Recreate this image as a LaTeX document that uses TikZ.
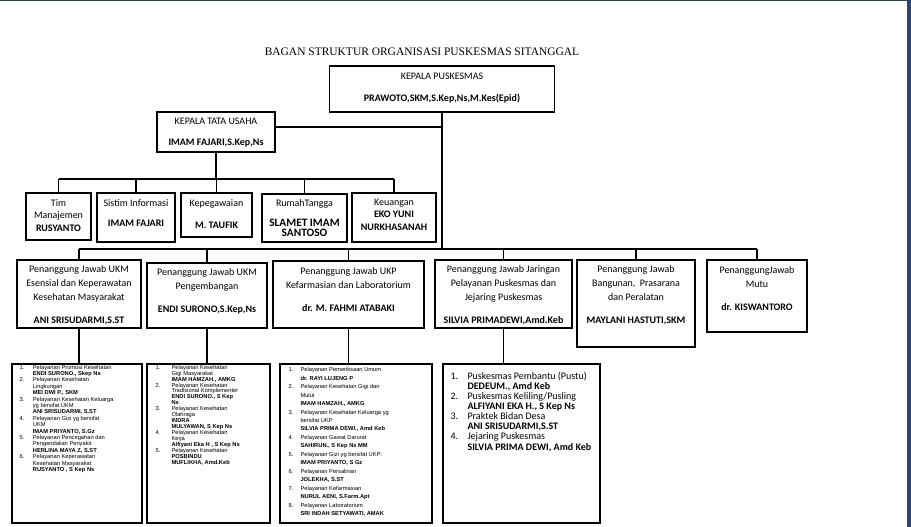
\documentclass[tikz,border=0pt]{standalone}
\usepackage{fontspec}
\setmainfont{Carlito}
\newfontfamily\judulfont{Liberation Serif}
\newfontfamily\arialfont{Liberation Sans}
\usetikzlibrary{positioning}
\definecolor{cframe}{HTML}{2B4470}
\definecolor{ctop}{HTML}{34404A}
\tikzset{
  every picture/.style={x=0.75pt, y=-0.75pt, line width=0.8pt},
  box/.style 2 args={draw, rectangle, inner sep=0pt, minimum width=#1*0.75pt, minimum height=#2*0.75pt},
  txt/.style={align=center, inner sep=0pt, font=\fontsize{7.5}{10.5}\selectfont},
  kecil/.style={align=center, inner sep=0pt, font=\fontsize{7.5}{9.4}\selectfont},
  daftar/.style={anchor=west, inner sep=0pt, font=\arialfont\fontsize{4.3}{#1}\selectfont},
  judul/.style={inner sep=0pt, font=\judulfont\fontsize{8.6}{10}\selectfont},
}
\newcommand{\besar}[1]{{\fontsize{8.5}{9.4}\selectfont\bfseries #1}}

\begin{document}
\begin{tikzpicture}
  \useasboundingbox (0,0) rectangle (911,527);
  % window edges
  \fill[ctop] (0,0) rectangle (911,1.2);
  \fill[cframe] (907,0) rectangle (911,527);
  \node[judul] (judul) at (422,52) {BAGAN STRUKTUR ORGANISASI PUSKESMAS SITANGGAL};
  % kepala
  \node[box={225}{46}] (kapus) at (442,89) {};
  \node[txt] (kapust) at (442,88) {KEPALA PUSKESMAS\\[6pt]\textbf{PRAWOTO,SKM,S.Kep,Ns,M.Kes(Epid)}};
  \node[box={118}{40}] (tu) at (216,132) {};
  \node[txt] (tut) at (216,132.5) {KEPALA TATA USAHA\\[5.25pt]\textbf{IMAM FAJARI,S.Kep,Ns}};
  % staf tata usaha
  \node[box={65}{47}] (tim) at (58.5,216.5) {};
  \node[box={78}{49}] (si) at (136,217.5) {};
  \node[box={71}{44}] (kp) at (216.5,215) {};
  \node[box={85}{48}] (rt) at (304.5,218) {};
  \node[box={84}{49}] (ku) at (394,217.5) {};
  \node[kecil] (timt) at (58.5,215.5) {Tim\\Manajemen\\\textbf{RUSYANTO}};
  \node[kecil] (sit) at (136,213) {Sistim Informasi\\[5.6pt]\textbf{IMAM FAJARI}};
  \node[kecil] (kpt) at (216.5,214) {Kepegawaian\\[7pt]\textbf{M. TAUFIK}};
  \node[kecil] (rtt) at (304.5,218) {RumahTangga\\[5.6pt]\besar{SLAMET IMAM}\\[-1.9pt]\besar{SANTOSO}};
  \node[kecil] (kut) at (394,214.5) {Keuangan\\\textbf{EKO YUNI}\\\textbf{NURKHASANAH}};
  % penanggung jawab
  \node[box={124}{68}] (pj1) at (79,294) {};
  \node[box={120}{65}] (pj2) at (207,295.5) {};
  \node[box={151}{67}] (pj3) at (348.5,294.5) {};
  \node[box={137}{68}] (pj4) at (503.5,294) {};
  \node[box={118}{87}] (pj5) at (636,303.5) {};
  \node[box={100}{72}] (pj6) at (757,296) {};
  \node[txt] (pj1t) at (79,295.5) {Penanggung Jawab UKM\\Esensial dan Keperawatan\\Kesehatan Masyarakat\\[6.75pt]\textbf{ANI SRISUDARMI,S.ST}};
  \node[txt] (pj2t) at (207,291) {Penanggung Jawab UKM\\Pengembangan\\[6.75pt]\textbf{ENDI SURONO,S.Kep,Ns}};
  \node[txt] (pj3t) at (348.5,289.5) {Penanggung Jawab UKP\\Kefarmasian dan Laboratorium\\[6.75pt]\textbf{dr. M. FAHMI ATABAKI}};
  \node[txt] (pj4t) at (503.5,295.5) {Penanggung Jawab Jaringan\\Pelayanan Puskesmas dan\\Jejaring Puskesmas\\[6.75pt]\textbf{SILVIA PRIMADEWI,Amd.Keb}};
  \node[txt] (pj5t) at (636,295.5) {Penanggung Jawab\\Bangunan,\ \ Prasarana\\dan Peralatan\\[6.75pt]\textbf{MAYLANI HASTUTI,SKM}};
  \node[txt] (pj6t) at (757,289) {PenanggungJawab\\Mutu\\[6.75pt]\textbf{dr. KISWANTORO}};
  % daftar pelayanan
  \node[box={130}{159}] (l1) at (77,443.5) {};
  \node[box={123}{159}] (l2) at (208.5,443.5) {};
  \node[box={152}{159}] (l3) at (356,443.5) {};
  \node[box={157}{159}] (l4) at (521.5,443.5) {};
  \node[daftar=4.8pt] (l1t) at (19,419) {\begin{tabular}{@{}p{10pt}@{}l@{}}
    1. & Pelayanan Promosi Kesehatan\\
       & \textbf{ENDI SURONO., Skep Ns}\\
    2. & Pelayanan Kesehatan\\
       & Lingkungan\\
       & \textbf{MEI DWI P., SKM}\\
    3. & Pelayanan Kesehatan Keluarga\\
       & yg bersifat UKM\\
       & \textbf{ANI SRISUDARMI, S.ST}\\
    4. & Pelayanan Gizi yg bersifat\\
       & UKM\\
       & \textbf{IMAM PRIYANTO, S.Gz}\\
    5. & Pelayanan Pencegahan dan\\
       & Pengendalian Penyakit\\
       & \textbf{HERLINA MAYA Z, S.ST}\\
    6. & Pelayanan Keperawatan\\
       & Kesehatan Masyarakat\\
       & \textbf{RUSYANTO , S Kep Ns}
  \end{tabular}};
  \node[daftar=4.45pt] (l2t) at (155,415.5) {\begin{tabular}{@{}p{12pt}@{}l@{}}
    1. & Pelayanan Kesehatan\\
       & Gigi Masyarakat\\
       & \textbf{IMAM HAMZAH., AMKG}\\
    2. & Pelayanan Kesehatan\\
       & Tradisional Komplementer\\
       & \textbf{ENDI SURONO., S Kep}\\
       & \textbf{Ns}\\
    3. & Pelayanan Kesehatan\\
       & Olahraga\\
       & \textbf{INDRA}\\
       & \textbf{MULYAWAN, S Kep Ns}\\
    4. & Pelayanan Kesehatan\\
       & Kerja\\
       & \textbf{Alfiyani Eka H , S Kep Ns}\\
    5. & Pelayanan Kesehatan\\
       & \textbf{POSBINDU}\\
       & \textbf{MUFLIKHA, Amd.Keb}
  \end{tabular}};
  \node[daftar=6.35pt] (l3t) at (288,442) {\begin{tabular}{@{}p{9pt}@{}l@{}}
    1. & Pelayanan Pemeriksaan Umum\\
       & \textbf{dr. RAYI LUJENG P}\\
    2. & Pelayanan Kesehatan Gigi dan\\
       & Mulut\\
       & \textbf{IMAM HAMZAH., AMKG}\\
    3. & Pelayanan Kesehatan Keluarga yg\\
       & bersifat UKP\\
       & \textbf{SILVIA PRIMA DEWI., Amd Keb}\\
    4. & Pelayanan Gawat Darurat\\
       & \textbf{SAHIRUN., S Kep Ns MM}\\
    5. & Pelayanan Gizi yg bersifat UKP:\\
       & \textbf{IMAM PRIYANTO, S Gz}\\
    6. & Pelayanan Persalinan\\
       & \textbf{JOLEKHA, S.ST}\\
    7. & Pelayanan Kefarmasian\\
       & \textbf{NURUL AENI, S.Farm.Apt}\\
    8. & Pelayanan Laboratorium\\
       & \textbf{SRI INDAH SETYAWATI, AMAK}
  \end{tabular}};
  \node[anchor=west, inner sep=0pt, font=\fontsize{7.5}{7.6}\selectfont] (l4t) at (450,412.5) {\begin{tabular}{@{}p{12.75pt}@{}l@{}}
    1. & Puskesmas Pembantu (Pustu)\\
       & \textbf{DEDEUM., Amd Keb}\\
    2. & Puskesmas Keliling/Pusling\\
       & \textbf{ALFIYANI EKA H., S Kep Ns}\\
    3. & Praktek Bidan Desa\\
       & \textbf{ANI SRISUDARMI,S.ST}\\
    4. & Jejaring Puskesmas\\
       & \textbf{SILVIA PRIMA DEWI, Amd Keb}
  \end{tabular}};
  % garis
  \coordinate (bus1) at (0,179);
  \coordinate (bus2) at (0,249);
  \draw (kapus.south) -- (kapus.south |- bus2);
  \draw ([yshift=3.75pt]tu.east) -- ([yshift=3.75pt]tu.east -| kapus.south);
  \draw (tu.south) -- (tu.south |- bus1);
  \draw (tim.north |- bus1) -- (ku.north |- bus1);
  \foreach \b in {tim,si,kp,rt,ku} \draw (\b.north) -- (\b.north |- bus1);
  \draw (pj1.north |- bus2) -- (pj6.north |- bus2);
  \foreach \p in {pj1,pj2,pj3,pj4,pj5,pj6} \draw (\p.north) -- (\p.north |- bus2);
  \foreach \p/\l in {pj1/l1,pj2/l2,pj3/l3,pj4/l4} \draw (\p.south) -- (\p.south |- \l.north);
\end{tikzpicture}
\end{document}
